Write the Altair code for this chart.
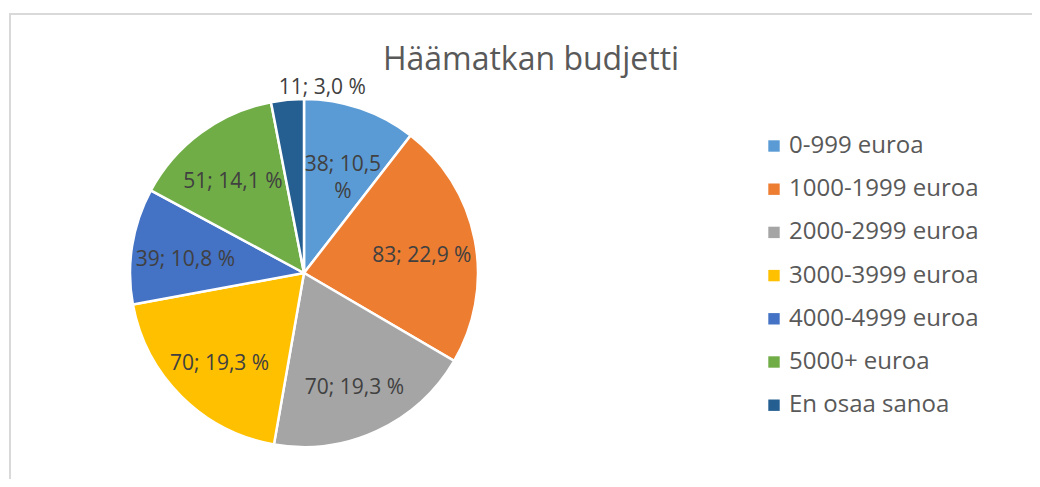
import altair as alt
import pandas as pd

categories = ["0-999 euroa", "1000-1999 euroa", "2000-2999 euroa", "3000-3999 euroa",
              "4000-4999 euroa", "5000+ euroa", "En osaa sanoa"]
values = [38, 83, 70, 70, 39, 51, 11]
labels = ["38; 10,5\n%", "83; 22,9 %", "70; 19,3 %", "70; 19,3 %",
          "39; 10,8 %", "51; 14,1 %", "11; 3,0 %"]
colors = ["#5B9BD5", "#ED7D31", "#A5A5A5", "#FFC000", "#4472C4", "#70AD47", "#255E91"]

df = pd.DataFrame({"cat": categories, "value": values, "label": labels,
                   "idx": list(range(len(categories)))})

FONT = "Open Sans"
CX, CY, R = 296, 265, 174

base = alt.Chart(df).encode(
    theta=alt.Theta("value:Q", stack=True),
    order=alt.Order("idx:Q"),
)

pie = base.mark_arc(outerRadius=R, stroke="white", strokeWidth=2.5).encode(
    x=alt.value(CX), y=alt.value(CY),
    color=alt.Color("cat:N",
                    scale=alt.Scale(domain=categories, range=colors),
                    sort=categories,
                    legend=alt.Legend(orient="none", legendX=754, legendY=126,
                                      direction="vertical", title=None,
                                      symbolType="square", symbolSize=130,
                                      symbolStrokeWidth=0,
                                      labelFont=FONT, labelFontSize=24,
                                      labelColor="#595959", labelOffset=3,
                                      labelLimit=400,
                                      rowPadding=19.2, padding=0)),
)

text = base.transform_calculate(
    r="datum.value < 20 ? 192 : 120"
).mark_text(font=FONT, fontSize=21, color="#404040", baseline="middle",
            align="center", lineBreak="\n", lineHeight=27, dy=6).encode(
    x=alt.value(CX), y=alt.value(CY),
    radius=alt.Radius("r:Q", scale=None),
    text="label:N",
)

frame = alt.Chart(alt.Data(values=[{"a": 1}])).mark_rect(
    fill="white", stroke="#d9d9d9", strokeWidth=2
).encode(x=alt.value(2), x2=alt.value(1060), y=alt.value(6), y2=alt.value(520))

chart = alt.layer(frame, pie, text).properties(
    width=1024, height=471,
    autosize=alt.AutoSizeParams(type="none"),
    padding=0,
    title=alt.TitleParams("Häämatkan budjetti", font=FONT, fontSize=32,
                          fontWeight="normal", color="#595959",
                          anchor="middle", offset=-69, dx=11),
).configure_view(stroke=None)

chart.save("out.html", embed_options={"renderer": "svg", "actions": False})
